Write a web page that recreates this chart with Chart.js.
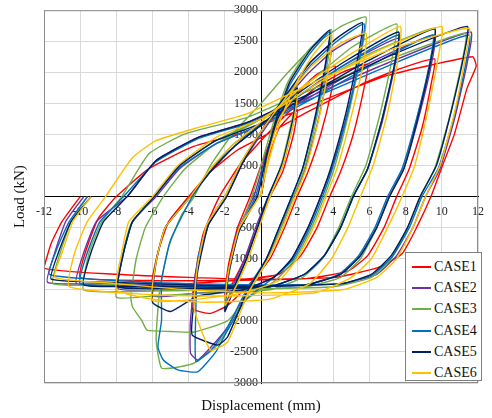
<!DOCTYPE html>
<html>
<head>
<meta charset="utf-8">
<script src="https://cdn.jsdelivr.net/npm/chart.js@4.4.0/dist/chart.umd.min.js"></script>
<style>
  body { margin: 0; background: #fff; }
  #wrap { position: relative; width: 492px; height: 418px; }
  #legend {
    position: absolute; left: 405px; top: 252px; width: 77px; height: 129px;
    background: #fff; border: 1px solid #7f7f7f;
    font-family: "Liberation Serif", serif; font-size: 14px; color: #111;
    padding-top: 3px; box-sizing: border-box;
  }
  #legend div { height: 21.3px; display: flex; align-items: center; }
  #legend span.ln { display: inline-block; width: 19px; height: 2px; margin: 0 3px 0 6px; }
</style>
</head>
<body>
<div id="wrap">
  <canvas id="hysChart" width="492" height="418"></canvas>
  <div id="legend"></div>
</div>
<script>
// 荷重-変位 履歴データ [変位(mm), 荷重(kN)]
const case1 = [[0,0],[0.4,600],[1.0,1100],[2.0,1400],
  [1.8,1000],[1.2,400],[0.5,0],[-0.2,-500],[-0.9,-1000],[-1.5,-1350],[-2.0,-1600],
  [-1.8,-1100],[-1.3,-500],[-0.6,0],[0,500],[0.8,1100],[1.8,1600],[3.0,1950],[4.1,2100],
  [3.9,1700],[3.3,1000],[2.6,400],[2.0,0],[1.3,-500],[0.5,-1000],[-0.6,-1400],[-1.85,-1750],[-2.8,-1880],[-3.8,-1800],
  [-3.6,-1200],[-3.2,-600],[-2.3,0],[-1.2,500],[0,900],[1.5,1350],[3.0,1750],[4.5,2000],[5.9,2130],
  [5.7,1750],[5.1,1000],[4.4,400],[3.8,0],[3.1,-500],[2.2,-950],[1.0,-1250],[-1.5,-1350],[-4,-1400],[-6,-1450],
  [-5.7,-900],[-5.1,-400],[-4.0,0],[-2.8,400],[-1.3,750],[0,950],[2.5,1350],[5.5,1800],[7.6,2050],[9.6,2215],
  [9.4,1800],[8.9,1100],[8.2,450],[7.5,0],[6.8,-500],[5.9,-950],[4.8,-1200],[2.5,-1320],[-2,-1350],[-6,-1350],[-10,-1300],
  [-9.6,-800],[-9.0,-350],[-8.0,0],[-6.2,450],[-3.8,800],[-0.8,1050],[3.0,1500],[7.0,1950],[11.7,2250],
  [11.9,2100],[11.4,1750],[10.7,1010],[10.0,470],[9.4,0],[8.6,-500],[7.8,-920],[6.5,-1140],[4.1,-1300],[0,-1330],[-4,-1300],[-8,-1250],[-12,-1150],
  [-11.6,-750],[-11.0,-400],[-10.0,0]];

const case2 = [[0,0],[0.4,700],[1.0,1250],[2.0,1650],
  [1.8,1200],[1.2,500],[0.4,0],[-0.3,-500],[-0.9,-1000],[-1.5,-1400],[-2.0,-1750],
  [-1.8,-1200],[-1.3,-550],[-0.4,0],[0.2,600],[0.8,1150],[1.6,1700],[2.7,2150],[3.9,2450],
  [3.7,2000],[3.1,1150],[2.4,400],[1.8,0],[1.1,-500],[0.3,-1000],[-0.8,-1550],[-1.85,-2100],[-2.7,-2400],[-3.5,-2630],[-3.9,-2520],
  [-3.9,-2000],[-3.6,-1200],[-2.9,-450],[-1.9,0],[-1.0,550],[0,1000],[1.2,1500],[2.5,1950],[4.0,2350],[5.6,2600],
  [5.4,2150],[4.7,1250],[3.9,450],[3.3,0],[2.6,-500],[1.7,-1000],[0.7,-1300],[-1.0,-1500],[-3.5,-1550],[-6.0,-1600],
  [-5.8,-1050],[-5.3,-500],[-3.9,0],[-2.8,400],[-1.5,800],[0,1150],[2.0,1600],[4.5,2100],[7.6,2550],
  [7.4,2100],[6.7,1200],[5.9,450],[5.1,0],[4.4,-500],[3.5,-950],[2.4,-1250],[0.5,-1450],[-3,-1500],[-6,-1500],[-7.9,-1480],
  [-7.6,-900],[-7.1,-400],[-5.8,0],[-4.5,450],[-2.5,850],[0,1150],[3.0,1650],[6.0,2150],[9.6,2600],
  [9.4,2100],[8.7,1250],[7.9,450],[7.1,0],[6.4,-500],[5.5,-950],[4.4,-1250],[2.5,-1420],[-2,-1450],[-6,-1430],[-10.2,-1400],
  [-9.8,-900],[-9.1,-400],[-7.4,0],[-5.8,580],[-3.5,950],[-0.8,1190],[3.0,1650],[7.0,2150],[11.6,2650],
  [11.4,2150],[10.7,1250],[9.9,450],[9.1,0],[8.4,-500],[7.5,-950],[6.4,-1250],[4.5,-1400],[0,-1430],[-4,-1420],[-8,-1400],[-11.8,-1380],
  [-11.4,-900],[-10.8,-400],[-9.8,0]];

const case3 = [[0,0],[0.4,750],[1.0,1400],[2.0,1850],
  [1.8,1350],[1.2,600],[0.5,0],[-0.2,-500],[-0.8,-1000],[-1.4,-1450],[-2.0,-1800],
  [-1.8,-1300],[-1.3,-600],[-0.5,0],[0.1,600],[0.7,1200],[1.5,1850],[2.6,2350],[3.9,2690],
  [3.7,2200],[3.1,1300],[2.4,450],[1.8,0],[1.1,-500],[0.3,-1050],[-0.8,-1600],[-1.85,-2150],[-2.6,-2450],[-3.7,-2680],[-4.5,-2740],[-5.5,-2760],[-5.8,-2300],
  [-5.6,-1500],[-5.1,-800],[-4.4,-300],[-3.7,0],[-2.8,500],[-1.6,1000],[0,1500],[1.5,2000],[3.0,2450],[4.5,2750],[5.8,2890],
  [5.6,2400],[4.9,1400],[4.1,500],[3.5,0],[2.8,-500],[1.9,-1000],[0.8,-1350],[-0.8,-1650],[-1.85,-2000],[-3.7,-2180],[-5.0,-2170],[-6.3,-2150],[-6.6,-1990],[-7.1,-1780],[-7.2,-1620],
  [-6.9,-1000],[-6.4,-500],[-5.4,0],[-4.2,450],[-2.5,850],[0,1250],[2.5,1800],[5.0,2400],[7.5,2780],
  [7.3,2300],[6.6,1350],[5.8,500],[5.0,0],[4.3,-500],[3.4,-1000],[2.3,-1300],[0.5,-1500],[-3,-1550],[-6,-1600],[-8.0,-1620],
  [-7.7,-1000],[-7.2,-450],[-5.9,0],[-4.5,500],[-2.5,900],[0,1250],[3.0,1800],[6.0,2300],[9.6,2710],
  [9.4,2250],[8.7,1350],[7.9,500],[7.1,0],[6.4,-500],[5.5,-1000],[4.4,-1300],[2.5,-1450],[-2,-1500],[-6,-1520],[-9.8,-1500],
  [-9.5,-900],[-8.8,-400],[-7.7,0],[-6.2,690],[-4.2,1010],[-0.8,1270],[3.0,1750],[7.0,2200],[11.3,2630],
  [11.1,2150],[10.4,1250],[9.6,450],[8.8,0],[8.1,-500],[7.2,-1000],[6.1,-1300],[4.0,-1450],[0,-1480],[-4,-1450],[-8,-1420],[-11.5,-1400],
  [-11.1,-900],[-10.5,-400],[-9.6,0]];

const case4 = [[0,0],[0.4,700],[1.0,1300],[2.0,1700],
  [1.8,1250],[1.2,550],[0.4,0],[-0.2,-500],[-0.8,-1000],[-1.4,-1400],[-2.0,-1800],
  [-1.8,-1250],[-1.3,-600],[-0.3,0],[0.3,650],[0.9,1250],[1.6,1800],[2.7,2300],[3.8,2650],
  [3.6,2150],[3.0,1250],[2.3,450],[1.7,0],[1.0,-500],[0.3,-1000],[-0.8,-1500],[-1.85,-2100],[-2.7,-2450],[-3.6,-2650],
  [-3.6,-1800],[-3.5,-1000],[-2.9,-400],[-2.0,0],[-1.1,550],[0,1050],[1.3,1550],[2.7,2100],[4.2,2500],[5.7,2780],
  [5.5,2300],[4.8,1350],[4.0,500],[3.4,0],[2.7,-500],[1.8,-1000],[0.7,-1300],[-0.8,-1650],[-1.85,-2150],[-2.5,-2500],[-3.5,-2820],[-4.6,-2790],[-5.4,-2630],[-5.7,-2420],
  [-5.5,-1990],[-5.5,-1350],[-5.0,-700],[-3.8,0],[-2.7,450],[-1.5,850],[0,1150],[2.0,1600],[4.5,2100],[7.6,2600],
  [7.4,2150],[6.7,1250],[5.9,450],[5.1,0],[4.4,-500],[3.5,-950],[2.4,-1250],[0.5,-1450],[-3,-1480],[-6,-1470],[-7.9,-1450],
  [-7.6,-900],[-7.1,-400],[-5.9,0],[-4.6,450],[-2.5,850],[0,1150],[3.0,1600],[6.0,2100],[9.5,2600],
  [9.3,2100],[8.6,1250],[7.8,450],[7.0,0],[6.3,-500],[5.4,-950],[4.3,-1250],[2.5,-1420],[-2,-1450],[-6,-1430],[-10.0,-1400],
  [-9.6,-900],[-8.9,-400],[-7.6,0],[-5.8,560],[-3.5,930],[-0.8,1170],[3.0,1600],[7.0,2100],[11.5,2600],
  [11.3,2100],[10.6,1200],[9.8,450],[8.9,0],[8.2,-500],[7.3,-950],[6.2,-1250],[4.5,-1400],[0,-1420],[-4,-1400],[-8,-1350],[-11.7,-1250],
  [-11.3,-850],[-10.6,-400],[-9.6,0]];

const case5 = [[0,0],[0.4,700],[1.0,1300],[2.0,1750],
  [1.8,1300],[1.2,550],[0.4,0],[-0.2,-500],[-0.8,-1000],[-1.4,-1400],[-2.0,-1850],
  [-1.8,-1250],[-1.2,-550],[-0.2,0],[0.3,650],[0.9,1300],[1.6,1850],[2.7,2350],[3.8,2680],
  [3.6,2200],[3.0,1300],[2.3,450],[1.7,0],[1.0,-500],[0.3,-1000],[-0.8,-1550],[-1.85,-2260],[-2.4,-2390],[-3.8,-2230],
  [-3.8,-1960],[-3.5,-1200],[-2.9,-450],[-1.9,0],[-1.0,550],[0,1050],[1.3,1600],[2.7,2150],[4.2,2550],[5.6,2800],
  [5.4,2300],[4.7,1350],[3.9,500],[3.3,0],[2.6,-500],[1.7,-1000],[0.7,-1300],[-1,-1500],[-3.5,-1600],[-5.0,-1850],[-6.0,-1700],
  [-5.8,-1050],[-5.3,-500],[-3.9,0],[-2.8,400],[-1.5,800],[0,1150],[2.0,1650],[4.5,2150],[7.6,2650],
  [7.4,2150],[6.7,1250],[5.9,450],[5.1,0],[4.4,-500],[3.5,-950],[2.4,-1250],[0.5,-1450],[-3,-1480],[-6,-1470],[-7.9,-1450],
  [-7.6,-900],[-7.1,-400],[-5.9,0],[-4.5,500],[-2.5,900],[0,1180],[3.0,1700],[6.0,2200],[9.6,2700],
  [9.4,2200],[8.7,1300],[7.9,450],[7.1,0],[6.4,-500],[5.5,-950],[4.4,-1250],[2.5,-1420],[-2,-1460],[-6,-1440],[-9.8,-1420],
  [-9.4,-900],[-8.7,-400],[-7.4,0],[-5.8,580],[-3.5,950],[-0.8,1190],[3.0,1700],[7.0,2250],[11.4,2740],
  [11.2,2250],[10.5,1350],[9.7,500],[8.8,0],[8.1,-500],[7.2,-950],[6.1,-1250],[4.5,-1400],[0,-1440],[-4,-1420],[-8,-1380],[-11.6,-1330],
  [-11.2,-900],[-10.5,-400],[-9.4,0]];

const case6 = [[0,0],[0.4,650],[1.0,1250],[2.0,1650],
  [1.8,1200],[1.2,500],[0.5,0],[-0.1,-500],[-0.7,-1000],[-1.3,-1400],[-2.0,-1750],
  [-1.8,-1200],[-1.2,-500],[-0.1,0],[0.5,650],[1.1,1250],[1.9,1800],[2.8,2250],[3.9,2610],
  [3.8,2150],[3.2,1250],[2.5,450],[1.9,0],[1.2,-500],[0.4,-1000],[-0.7,-1550],[-1.85,-2340],[-2.8,-2470],[-3.7,-1800],
  [-3.5,-1100],[-3.0,-450],[-2.0,0],[-1.1,550],[0,1050],[1.4,1600],[2.8,2100],[4.3,2450],[5.8,2630],
  [5.7,2200],[5.0,1300],[4.2,450],[3.6,0],[2.9,-500],[2.0,-1000],[1.0,-1350],[-1,-1550],[-3.5,-1650],[-6.0,-1670],
  [-5.8,-1050],[-5.3,-500],[-3.9,0],[-2.8,450],[-1.5,850],[0,1200],[2.2,1750],[5.0,2300],[7.7,2740],
  [7.6,2250],[7.0,1350],[6.2,500],[5.5,0],[4.8,-500],[3.9,-1000],[2.7,-1400],[0.5,-1650],[-3,-1700],[-6,-1650],[-8.0,-1500],
  [-7.7,-900],[-7.3,-400],[-6.0,0],[-4.6,500],[-2.5,950],[0,1250],[3.0,1800],[6.5,2350],[10.0,2740],
  [9.8,2250],[9.2,1350],[8.5,500],[7.8,0],[7.0,-500],[6.1,-1000],[5.0,-1300],[3.0,-1550],[-2,-1600],[-6,-1580],[-10.6,-1450],
  [-10.3,-900],[-9.6,-400],[-8.6,0],[-7.1,630],[-5.8,900],[-3.5,1110],[-0.8,1330],[3.0,1850],[7.0,2350],[11.5,2710],
  [11.3,2250],[10.7,1350],[9.9,500],[9.1,0],[8.4,-500],[7.5,-1000],[6.4,-1300],[4.5,-1500],[0,-1550],[-4,-1500],[-8,-1400],[-11.4,-1300],
  [-11.0,-900],[-10.4,-400],[-9.4,0]];

const caseNames = ['CASE1', 'CASE2', 'CASE3', 'CASE4', 'CASE5', 'CASE6'];
const caseData = [case1, case2, case3, case4, case5, case6];
const caseColors = ['#FF0000', '#7030A0', '#70AD47', '#0070C0', '#002060', '#FFC000'];

// 軸の範囲
const xRange = [-12, 12];
const yRange = [-3000, 3000];

const datasets = caseData.map((pts, i) => ({
    label: caseNames[i],
    data: pts.map(p => ({ x: p[0], y: p[1] })),
    borderColor: caseColors[i],
    backgroundColor: caseColors[i],
    borderWidth: 1.4,
    pointRadius: 0,
    showLine: true,
    tension: 0.15,
    order: 5 - i  // CASE6 を最前面に
}));

// プロット領域の外枠
const frame = {
    id: 'frame',
    afterDraw(chart) {
        const a = chart.chartArea;
        const c = chart.ctx;
        c.save();
        c.strokeStyle = '#8c8c8c';
        c.lineWidth = 1;
        c.strokeRect(a.left + 0.5, a.top + 0.5, a.right - a.left - 1, a.bottom - a.top - 1);
        c.restore();
    }
};

const tickFont = { family: 'Liberation Serif', size: 12 };

new Chart(document.getElementById('hysChart'), {
    type: 'scatter',
    data: { datasets: datasets },
    options: {
        responsive: false,
        animation: false,
        layout: { padding: { left: 11, right: 8, top: 9, bottom: 0 } },
        scales: {
            x: {
                type: 'linear',
                position: { y: 0 },
                min: xRange[0], max: xRange[1],
                ticks: { stepSize: 2, font: tickFont, color: '#222', padding: 8, maxRotation: 0,
                         callback: v => v },
                grid: { color: '#d9d9d9', drawTicks: false },
                border: { color: '#000', width: 1 }
            },
            y: {
                type: 'linear',
                position: { x: 0 },
                min: yRange[0], max: yRange[1],
                ticks: { stepSize: 500, font: tickFont, color: '#222', callback: v => v + ' ' },
                grid: { color: '#d9d9d9', drawTicks: false },
                border: { color: '#000', width: 1 }
            }
        },
        plugins: {
            legend: { display: false },
            tooltip: { enabled: false },
            title: {
                display: true, text: 'Load (kN)', position: 'left', fullSize: false,
                font: { family: 'Liberation Serif', size: 15, weight: 'normal' }, color: '#111',
                padding: { top: 0, bottom: 15 }
            },
            subtitle: {
                display: true, text: 'Displacement (mm)', position: 'bottom', fullSize: false,
                font: { family: 'Liberation Serif', size: 15, weight: 'normal' }, color: '#111',
                padding: { top: 14, bottom: 3 }
            }
        }
    },
    plugins: [frame]
});

// 凡例
const legendEl = document.getElementById('legend');
caseNames.forEach((name, i) => {
    const row = document.createElement('div');
    row.innerHTML = '<span class="ln" style="background:' + caseColors[i] + '"></span>' + name;
    legendEl.appendChild(row);
});
</script>
</body>
</html>
